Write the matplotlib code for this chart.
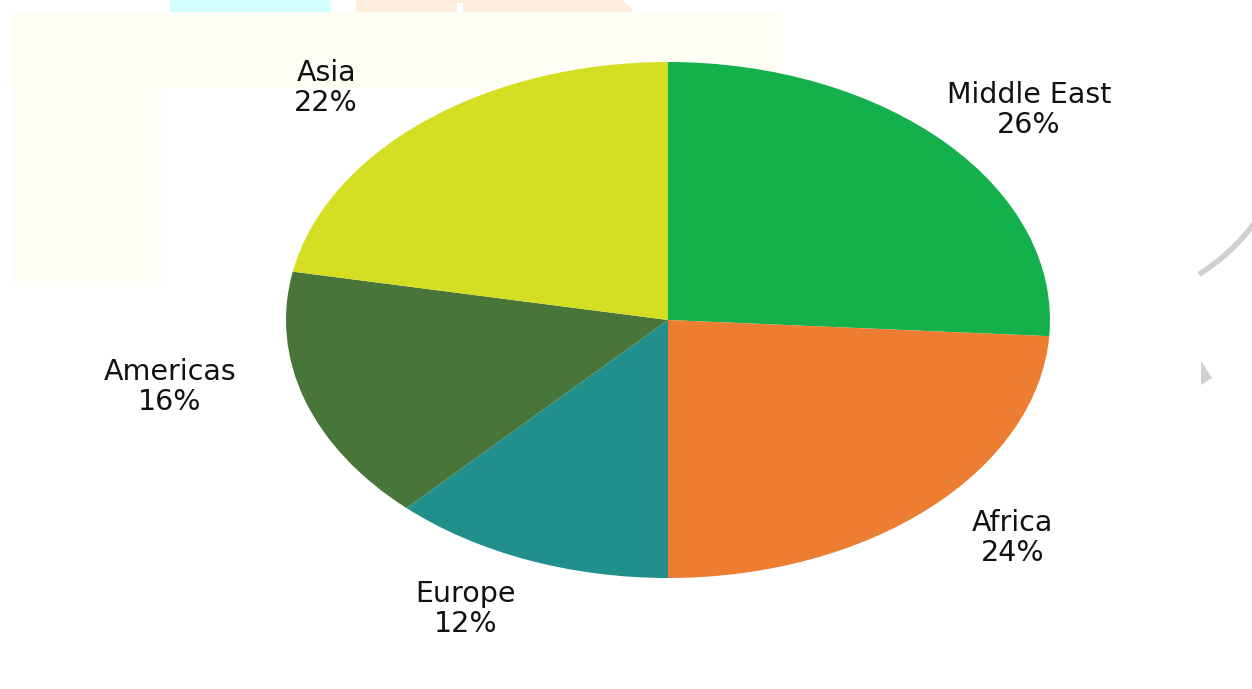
import matplotlib
matplotlib.use("Agg")
import matplotlib.pyplot as plt
from matplotlib.patches import Rectangle, Polygon, Arc

# Share of total by region
regions = ["Middle East", "Africa", "Europe", "Americas", "Asia"]
shares = [26, 24, 12, 16, 22]
colors = ["#14B04C", "#EC7D31", "#21908C", "#48763A", "#D4DE22"]

W, H = 1252, 689
fig = plt.figure(figsize=(W / 100, H / 100), dpi=100)
fig.patch.set_facecolor("white")

# faint background panels (figure pixel coordinates, origin top-left)
bg = fig.add_axes([0, 0, 1, 1], zorder=0)
bg.set_xlim(0, W)
bg.set_ylim(H, 0)
bg.axis("off")
bg.add_patch(Rectangle((12, 12), 770, 75, color="#FEFEF4", lw=0))
bg.add_patch(Rectangle((12, 87), 150, 200, color="#FEFEF6", lw=0))
bg.add_patch(Rectangle((170, 0), 161, 12, color="#D2FFFF", lw=0))
bg.add_patch(Polygon([(356, 0), (622, 0), (633, 10), (633, 12), (356, 12)],
                     closed=True, color="#FFEEDD", lw=0))
bg.add_patch(Rectangle((457, 3), 6, 9, color="white", lw=0))
bg.add_patch(Arc((1092, 103), 404, 404, theta1=35, theta2=58,
                 color="#D0D0D0", lw=4))
bg.add_patch(Polygon([(1201, 361), (1212, 378), (1201, 385)], closed=True,
                     color="#D0D0D0", lw=0))

# pie axes: stretched so the pie is drawn as a wide ellipse
cx, cy, rx, ry = 668, 320, 382, 258
ax = fig.add_axes([(cx - rx) / W, (H - cy - ry) / H, 2 * rx / W, 2 * ry / H],
                  zorder=1)
ax.pie(shares, colors=colors, startangle=90, counterclock=False,
       wedgeprops=dict(linewidth=0))
ax.set_aspect("auto")
ax.set_xlim(-1, 1)
ax.set_ylim(-1, 1)
ax.axis("off")

# slice labels
label_pos = {
    "Middle East": (0.945, 0.814),
    "Africa": (0.903, -0.845),
    "Europe": (-0.529, -1.12),
    "Americas": (-1.304, -0.26),
    "Asia": (-0.895, 0.899),
}
for name, val in zip(regions, shares):
    x, y = label_pos[name]
    ax.text(x, y, f"{name}\n{val}%", ha="center", va="center",
            fontsize=20.5, family="DejaVu Sans", color="#111111",
            linespacing=1.08, clip_on=False)

fig.savefig("out.png", dpi=100, facecolor="white")
